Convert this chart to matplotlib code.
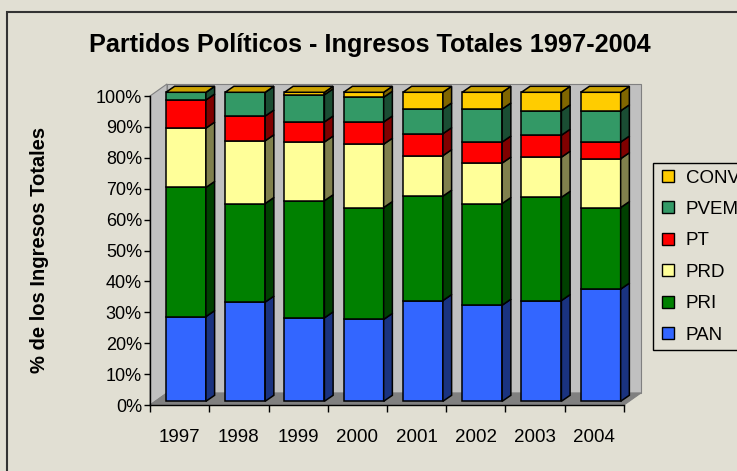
import matplotlib
matplotlib.use("Agg")
import matplotlib.pyplot as plt
import numpy as np
from matplotlib.colors import to_rgb
from matplotlib.lines import Line2D
from matplotlib.patches import Polygon, Rectangle

plt.rcParams["font.family"] = ["Liberation Sans", "DejaVu Sans"]

# share of total income per party, in %
years = ["1997", "1998", "1999", "2000", "2001", "2002", "2003", "2004"]
pan = [27.4, 32.1, 27.0, 26.5, 32.6, 31.1, 32.6, 36.3]
pri = [41.8, 31.9, 37.9, 36.2, 33.8, 32.9, 33.4, 26.4]
prd = [19.2, 20.3, 19.0, 20.5, 13.1, 13.1, 13.0, 15.8]
pt = [9.1, 8.0, 6.5, 7.2, 7.1, 6.8, 7.1, 5.4]
pvem = [2.5, 7.7, 8.8, 8.0, 8.0, 10.7, 7.9, 10.1]
conv = [0.0, 0.0, 0.8, 1.6, 5.4, 5.4, 6.0, 6.0]

parties = ["PAN", "PRI", "PRD", "PT", "PVEM", "CONV"]
series = [pan, pri, prd, pt, pvem, conv]
colors = ["#3366FF", "#008000", "#FFFF99", "#FF0000", "#339966", "#FFCC00"]

W, H = 737, 471
BG = "#E1DFD3"

# 3d look, in data units (x: category, y: percent)
WALL_DX, WALL_DY = 0.287, 3.9
BAR_FX, BAR_FY = 0.106, 1.2
BAR_DX, BAR_DY = 0.147, 1.94
BAR_W = 0.675
EDGE = 1.1


def shade(color, k):
    return tuple(c * k for c in to_rgb(color))


def px_rect(x0, y0, x1, y1):
    return [x0 / W, 1 - y1 / H, (x1 - x0) / W, (y1 - y0) / H]


fig = plt.figure(figsize=(W / 100, H / 100), dpi=100, facecolor=BG)
ax = fig.add_axes(px_rect(150, 96, 624, 405))
ax.set_xlim(-0.5, len(years) - 0.5)
ax.set_ylim(0, 100)
ax.patch.set_visible(False)

x_lo, x_hi = -0.5, len(years) - 0.5
wall_kw = dict(ec="#808080", lw=0.8, zorder=0.5, clip_on=False)
ax.add_patch(Polygon([(x_lo + WALL_DX, WALL_DY), (x_hi + WALL_DX, WALL_DY),
                      (x_hi + WALL_DX, 100 + WALL_DY), (x_lo + WALL_DX, 100 + WALL_DY)],
                     fc="#C0C0C0", **wall_kw))
ax.add_patch(Polygon([(x_lo, 0), (x_lo, 100), (x_lo + WALL_DX, 100 + WALL_DY),
                      (x_lo + WALL_DX, WALL_DY)], fc="#C0C0C0", **wall_kw))
ax.add_patch(Polygon([(x_lo, 0), (x_hi, 0), (x_hi + WALL_DX, WALL_DY),
                      (x_lo + WALL_DX, WALL_DY)], fc="#808080", **wall_kw))

x = np.arange(len(years))
bottom = np.zeros(len(years))
for name, vals, color in zip(parties, series, colors):
    v = np.array(vals, dtype=float)
    ax.bar(x + BAR_FX, v, width=BAR_W, bottom=bottom + BAR_FY, color=color,
           edgecolor="black", linewidth=EDGE, zorder=3, clip_on=False)
    for xi, b, h in zip(x, bottom, v):
        xr = xi + BAR_FX + BAR_W / 2
        y0, y1 = b + BAR_FY, b + h + BAR_FY
        ax.add_patch(Polygon([(xr, y0), (xr + BAR_DX, y0 + BAR_DY),
                              (xr + BAR_DX, y1 + BAR_DY), (xr, y1)],
                             fc=shade(color, 0.5), ec="black", lw=EDGE,
                             zorder=3, clip_on=False, joinstyle="miter"))
    bottom += v

# top faces take the colour of the last series
for xi, top in zip(x, bottom):
    xl = xi + BAR_FX - BAR_W / 2
    xr = xi + BAR_FX + BAR_W / 2
    yt = top + BAR_FY
    ax.add_patch(Polygon([(xl, yt), (xl + BAR_DX, yt + BAR_DY),
                          (xr + BAR_DX, yt + BAR_DY), (xr, yt)],
                         fc=shade(colors[-1], 0.8), ec="black", lw=EDGE,
                         zorder=3, clip_on=False, joinstyle="miter"))

for side in ("top", "right"):
    ax.spines[side].set_visible(False)
for side in ("left", "bottom"):
    ax.spines[side].set_linewidth(1.0)
    ax.spines[side].set_color("black")

ax.set_yticks(np.arange(0, 101, 10))
ax.set_yticklabels([f"{v}%" for v in range(0, 101, 10)])
ax.tick_params(axis="y", direction="out", length=4.3, width=1.0, labelsize=13, pad=1.5)

ax.set_xticks(np.arange(-0.5, len(years), 1.0))
ax.set_xticklabels([])
ax.set_xticks(x, minor=True)
ax.set_xticklabels(years, minor=True)
ax.tick_params(axis="x", which="major", direction="out", length=5, width=1.0)
ax.tick_params(axis="x", which="minor", length=0, labelsize=13.5, pad=17)

fig.text(370 / W, 1 - 52.3 / H, "Partidos Políticos - Ingresos Totales 1997-2004",
         ha="center", va="baseline", fontsize=18.2, fontweight="bold")
fig.text(40 / W, 1 - 250 / H, "% de los Ingresos Totales", rotation=90,
         ha="center", va="center", fontsize=14.5, fontweight="bold")

handles = [Line2D([], [], ls="", marker="s", markersize=8.4, mfc=c, mec="black", mew=1.0)
           for c in colors[::-1]]
leg = fig.legend(handles, parties[::-1], loc="upper left",
                 bbox_to_anchor=(653 / W, 1 - 163 / H), frameon=True, fancybox=False,
                 edgecolor="black", facecolor=BG, framealpha=1, fontsize=13.5,
                 borderpad=0.35, labelspacing=0.76, handlelength=0.9,
                 handletextpad=0.5, borderaxespad=0)
leg.get_frame().set_linewidth(1.0)

fig.patches.append(Rectangle((7 / W, -0.05), 1.2, 1.05 - 12 / H, transform=fig.transFigure,
                             fill=False, ec="#333333", lw=1.5))

fig.savefig("out.png", dpi=100, facecolor=BG)
